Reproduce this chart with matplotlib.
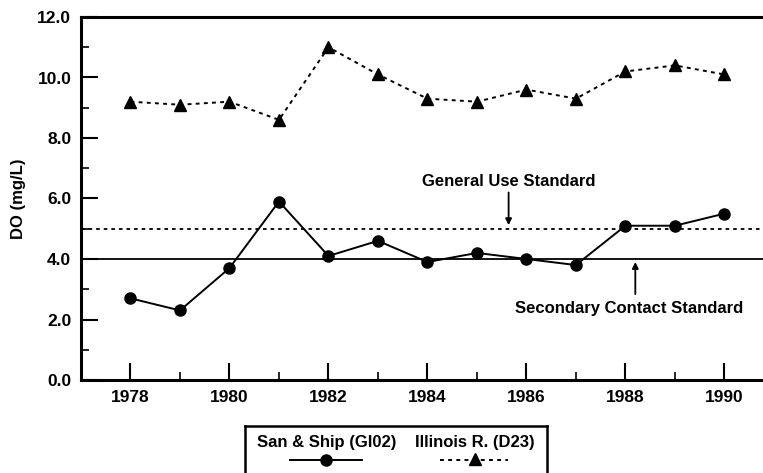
import numpy as np
import matplotlib
matplotlib.use("Agg")
import matplotlib.pyplot as plt
from matplotlib.lines import Line2D
from matplotlib.ticker import MultipleLocator

years = [1978, 1979, 1980, 1981, 1982, 1983, 1984, 1985, 1986, 1987, 1988, 1989, 1990]
illinois = [9.2, 9.1, 9.2, 8.6, 11.0, 10.1, 9.3, 9.2, 9.6, 9.3, 10.2, 10.4, 10.1]
sanship = [2.7, 2.3, 3.7, 5.9, 4.1, 4.6, 3.9, 4.2, 4.0, 3.8, 5.1, 5.1, 5.5]
general_use = 5.0
secondary_contact = 4.0

plt.rcParams['font.family'] = ['Liberation Sans', 'DejaVu Sans']
plt.rcParams['font.weight'] = 'bold'

W, H = 763, 473
fig = plt.figure(figsize=(W/100, H/100), dpi=100)
ax = fig.add_axes([81/W, 1-380/H, 1-81/W, (380-17)/H])

dots = (0, (2, 2.2))
ax.axhline(general_use, color='k', lw=1.3, ls=dots)
ax.axhline(secondary_contact, color='k', lw=1.3)
ax.plot(years, illinois, color='k', lw=1.4, ls=dots, marker='^', ms=9)
ax.plot(years, sanship, color='k', lw=1.4, marker='o', ms=8)

ax.set_xlim(1977.0, 1990.78)
ax.set_ylim(0, 12)
ax.xaxis.set_major_locator(MultipleLocator(2))
ax.xaxis.set_minor_locator(MultipleLocator(1))
ax.yaxis.set_major_locator(MultipleLocator(2))
ax.yaxis.set_minor_locator(MultipleLocator(1))
ax.yaxis.set_major_formatter(matplotlib.ticker.FormatStrFormatter('%.1f'))
ax.tick_params(which='major', direction='in', length=12, width=1.5, labelsize=12.5, pad=7)
ax.tick_params(which='minor', direction='in', length=6, width=1.2)
ax.tick_params(axis='x', which='both', top=False)
ax.tick_params(axis='y', which='both', right=False)
for side in ['left', 'bottom', 'top']:
    ax.spines[side].set_linewidth(2.2)
ax.spines['right'].set_visible(False)
ax.set_ylabel('DO (mg/L)', fontsize=12, fontweight='bold', labelpad=8)

ax.text(1985.65, 6.55, 'General Use Standard', ha='center', va='center',
        fontsize=12, fontweight='bold')
ax.annotate('', xy=(1985.64, 5.12), xytext=(1985.64, 6.2),
            arrowprops=dict(arrowstyle='-|>', color='k', lw=1.3, shrinkA=0, shrinkB=0,
                            mutation_scale=9))
ax.text(1988.08, 2.38, 'Secondary Contact Standard', ha='center', va='center',
        fontsize=12, fontweight='bold')
ax.annotate('', xy=(1988.2, 3.9), xytext=(1988.2, 2.84),
            arrowprops=dict(arrowstyle='-|>', color='k', lw=1.3, shrinkA=0, shrinkB=0,
                            mutation_scale=9))

# legend box, drawn in figure pixel units
lax = fig.add_axes([245/W, -0.05, (547-245)/W, (473-426)/H + 0.05])
lax.set_xlim(245, 547)
lax.set_ylim(473 + 0.05*H, 426)
lax.set_xticks([])
lax.set_yticks([])
for s in lax.spines.values():
    s.set_linewidth(1.8)
lax.text(327, 443, 'San & Ship (GI02)', ha='center', va='center', fontsize=12, fontweight='bold')
lax.text(475, 443, 'Illinois R. (D23)', ha='center', va='center', fontsize=12, fontweight='bold')
lax.add_line(Line2D([290, 362], [460, 460], color='k', lw=1.4))
lax.plot([326], [460], marker='o', color='k', ms=8)
lax.add_line(Line2D([440, 508], [460, 460], color='k', lw=1.4, ls=dots))
lax.plot([475], [459], marker='^', color='k', ms=9)

fig.savefig('out.png', dpi=100)
